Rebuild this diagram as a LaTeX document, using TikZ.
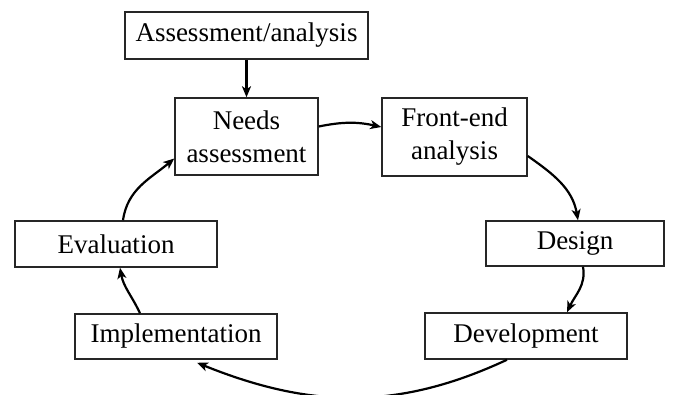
\documentclass[tikz,border=0pt]{standalone}
\usepackage{fontspec}
\setmainfont{Liberation Serif}
\usetikzlibrary{arrows.meta,calc}
\begin{document}
\begin{tikzpicture}[x=1pt,y=1pt,
  box/.style={draw=black!85,line width=1.5pt,inner sep=0pt,align=center,
    font=\fontsize{27}{33}\selectfont},
  arr/.style={line width=2.2pt,-{Stealth[length=11pt,width=9pt,inset=3pt]}}]
\useasboundingbox (0,0) rectangle (677,-394);
\node[box,minimum width=243pt,minimum height=47pt] (aa) at (246.5,-35.5) {Assessment/analysis};
\node[box,minimum width=143pt,minimum height=77pt] (na) at (246.5,-136.5) {Needs\\assessment};
\node[box,minimum width=145pt,minimum height=78pt] (fe) at (454.5,-137) {Front-end\\analysis};
\node[box,minimum width=178pt,minimum height=45pt] (de) at (575,-243.5) {Design};
\node[box,minimum width=202pt,minimum height=46pt] (dv) at (526,-336) {Development};
\node[box,minimum width=202pt,minimum height=46pt] (ev) at (116,-244) {Evaluation};
\node[box,minimum width=202pt,minimum height=45pt] (im) at (176,-336.5) {Implementation};
\draw[arr] (aa.south) -- (na.north);
\draw[arr] ([yshift=10pt]na.east) to[bend left=12] ([yshift=10pt]fe.west);
\draw[arr] ([yshift=-19pt]fe.east) to[out=-35,in=100] ([xshift=3pt]de.north);
\draw[arr] ([xshift=8pt]de.south) to[out=-80,in=65] ([xshift=41pt]dv.north);
\draw[arr] ([xshift=-19pt]dv.south) to[out=-155,in=-22] ([xshift=21pt,yshift=-3pt]im.south);
\draw[arr] ([xshift=-36pt]im.north) to[out=115,in=-80] ([xshift=4pt]ev.south);
\draw[arr] ([xshift=7pt]ev.north) to[out=82,in=-140] ([yshift=-22pt]na.west);
\end{tikzpicture}
\end{document}
